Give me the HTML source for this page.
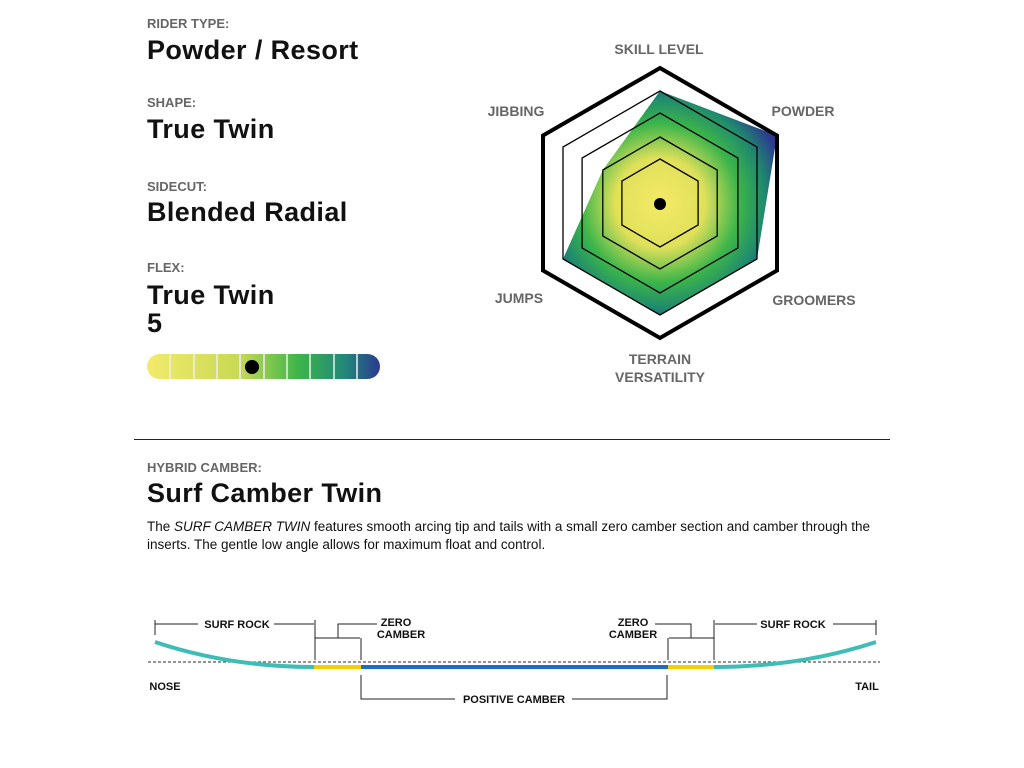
<!DOCTYPE html>
<html><head><meta charset="utf-8"><style>
body{margin:0;width:1024px;height:768px;background:#fff;font-family:"Liberation Sans",sans-serif;position:relative;overflow:hidden}
.l{position:absolute;left:147px;color:#666;font-size:13px;font-weight:bold}
.v{position:absolute;left:147px;color:#111;font-size:27px;font-weight:bold;line-height:28px;letter-spacing:0.4px}
</style></head><body>
<div class="l" style="top:16px">RIDER TYPE:</div>
<div class="v" style="top:36px">Powder / Resort</div>
<div class="l" style="top:95px">SHAPE:</div>
<div class="v" style="top:115px">True Twin</div>
<div class="l" style="top:179px">SIDECUT:</div>
<div class="v" style="top:198px">Blended Radial</div>
<div class="l" style="top:260px">FLEX:</div>
<div class="v" style="top:281px">True Twin<br>5</div>
<div style="position:absolute;left:134px;top:439px;width:756px;height:1px;background:#222"></div>
<div class="l" style="top:460px">HYBRID CAMBER:</div>
<div class="v" style="top:479px">Surf Camber Twin</div>
<div style="position:absolute;left:147px;top:518px;width:742px;font-size:13.5px;line-height:18px;color:#111">The <i>SURF CAMBER TWIN</i> features smooth arcing tip and tails with a small zero camber section and camber through the inserts. The gentle low angle allows for maximum float and control.</div>
<svg width="1024" height="768" style="position:absolute;left:0;top:0" font-family="Liberation Sans, sans-serif" font-weight="bold">
<defs>
<linearGradient id="fb" x1="0" x2="1"><stop offset="0" stop-color="#f3ea6a"/><stop offset="0.4" stop-color="#c7d955"/><stop offset="0.65" stop-color="#3cb54a"/><stop offset="0.85" stop-color="#22877a"/><stop offset="1" stop-color="#2b3a8f"/></linearGradient>
<radialGradient id="rg" cx="660" cy="203" r="128" gradientUnits="userSpaceOnUse"><stop offset="0" stop-color="#f4ea66"/><stop offset="0.35" stop-color="#e0e05a"/><stop offset="0.62" stop-color="#3cb54a"/><stop offset="0.82" stop-color="#1f8a6e"/><stop offset="1" stop-color="#2b3a8f"/></radialGradient>
<clipPath id="cb"><rect x="147" y="354" width="233" height="25" rx="12.5"/></clipPath>
</defs>
<g clip-path="url(#cb)"><rect x="147" y="354" width="233" height="25" fill="url(#fb)"/>
<g stroke="#eee" stroke-width="1.5"><line x1="170" y1="354" x2="170" y2="379"/><line x1="194" y1="354" x2="194" y2="379"/><line x1="217" y1="354" x2="217" y2="379"/><line x1="240" y1="354" x2="240" y2="379"/><line x1="264" y1="354" x2="264" y2="379"/><line x1="287" y1="354" x2="287" y2="379"/><line x1="310" y1="354" x2="310" y2="379"/><line x1="334" y1="354" x2="334" y2="379"/><line x1="357" y1="354" x2="357" y2="379"/></g></g>
<circle cx="252" cy="367" r="7" fill="#000"/>
<polygon points="660,91 777,135.5 757,259 660,315 563,259 602.8,170" fill="url(#rg)"/>
<g fill="none" stroke="#000" stroke-width="1.3">
<polygon points="660,91 757,147 757,259 660,315 563,259 563,147"/>
<polygon points="660,113 737.9,158 737.9,248 660,293 582.1,248 582.1,158"/>
<polygon points="660,137 717.2,170 717.2,236 660,269 602.8,236 602.8,170"/>
<polygon points="660,159 698.1,181 698.1,225 660,247 621.9,225 621.9,181"/>
<polygon points="660,68 777,135.5 777,270.5 660,338 543,270.5 543,135.5" stroke-width="4"/>
</g>
<circle cx="660" cy="204" r="6" fill="#000"/>
<g fill="#666" font-size="14" text-anchor="middle">
<text x="659" y="54">SKILL LEVEL</text><text x="516" y="116">JIBBING</text><text x="803" y="116">POWDER</text>
<text x="519" y="303">JUMPS</text><text x="814" y="305">GROOMERS</text>
<text x="660" y="364">TERRAIN</text><text x="660" y="382">VERSATILITY</text></g>
<line x1="148" y1="662" x2="880" y2="662" stroke="#555" stroke-width="1.2" stroke-dasharray="3,2"/>
<path d="M155,642 Q230,667 314,667" fill="none" stroke="#3dbdb5" stroke-width="4"/>
<path d="M714,667 Q800,667 876,642" fill="none" stroke="#3dbdb5" stroke-width="4"/>
<line x1="314" y1="667" x2="361" y2="667" stroke="#f5d000" stroke-width="4"/>
<line x1="668" y1="667" x2="714" y2="667" stroke="#f5d000" stroke-width="4"/>
<line x1="361" y1="667" x2="668" y2="667" stroke="#1b6fc0" stroke-width="4"/>
<g stroke="#222" stroke-width="1" fill="none">
<path d="M155,624 H198 M274,624 H314 M155,620 V635 M315,620 V660 M315,638 H360 M361,638 V660 M338,638 V624 H377"/>
<path d="M876,624 H833 M757,624 H715 M876,620 V635 M714,620 V660 M714,638 H669 M668,638 V660 M691,638 V624 H655"/>
<path d="M361,675 V699 H455 M572,699 H667 V675"/>
</g>
<g fill="#111" font-size="11" text-anchor="middle">
<text x="237" y="628">SURF ROCK</text><text x="793" y="628">SURF ROCK</text>
<text x="396" y="626">ZERO</text><text x="401" y="638">CAMBER</text>
<text x="633" y="626">ZERO</text><text x="633" y="638">CAMBER</text>
<text x="514" y="703">POSITIVE CAMBER</text>
<text x="165" y="690">NOSE</text><text x="867" y="690">TAIL</text></g>
</svg>
</body></html>
